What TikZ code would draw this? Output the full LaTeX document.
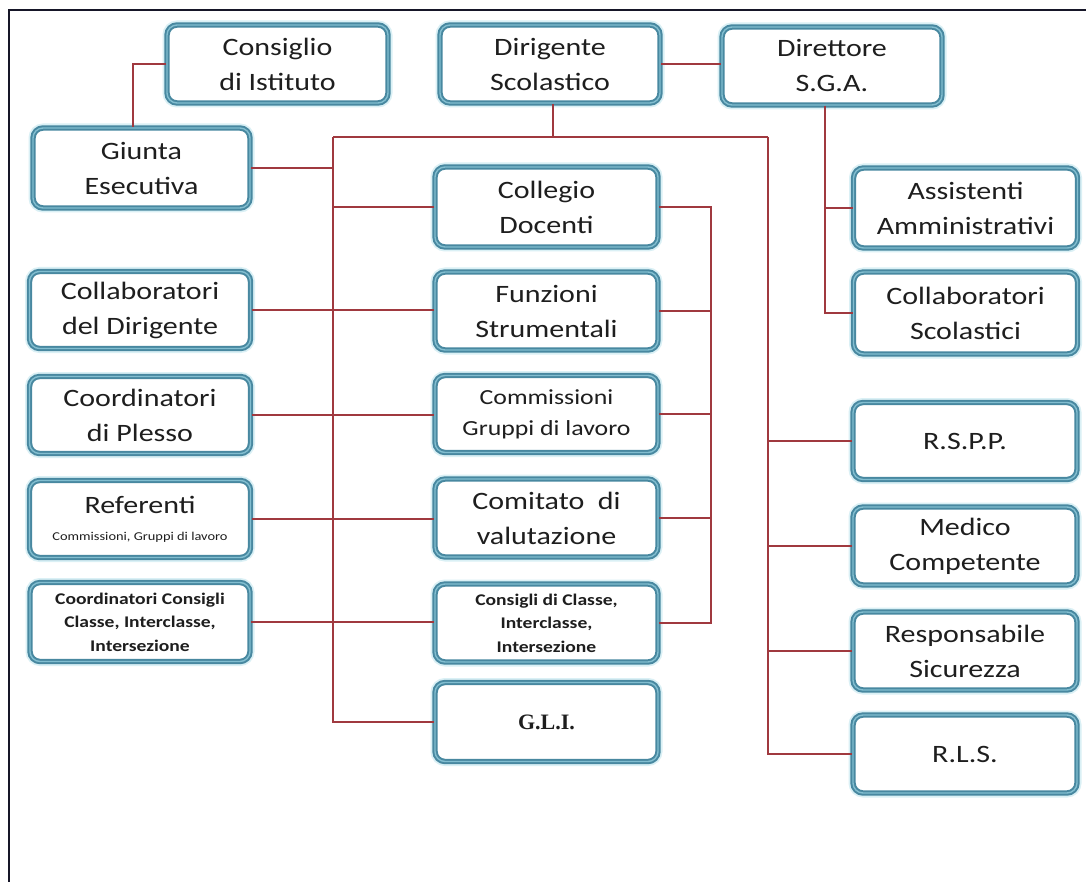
\documentclass[tikz,border=0pt]{standalone}
\usepackage{fontspec}
\setmainfont[FakeStretch=1.2]{Carlito}
\newfontfamily\glifont{Liberation Serif}
\usetikzlibrary{calc}
\definecolor{boxline}{RGB}{72,136,160}
\definecolor{boxinner}{RGB}{130,190,208}
\definecolor{glow}{RGB}{218,240,245}
\definecolor{conn}{RGB}{160,57,63}
\definecolor{txt}{RGB}{30,30,30}
\definecolor{frame}{RGB}{22,22,40}
\tikzset{
  orgbox/.style={rectangle, rounded corners=10pt, align=center, inner sep=0pt,
    text=txt, fill=white,
    draw=boxline, line width=2pt, double=boxinner, double distance=1.4pt,
    preaction={draw=glow, line width=9pt},
    font=\fontsize{25}{35}\selectfont},
  leftbox/.style={orgbox, minimum width=221pt, minimum height=77pt},
  midbox/.style={orgbox, minimum width=223pt, minimum height=78pt},
  rightbox/.style={orgbox, minimum width=224pt, minimum height=78pt},
  smallbold/.style={font=\fontsize{16.3}{23.5}\selectfont\bfseries},
  wire/.style={draw=conn, line width=1.2pt}
}
\begin{document}
\begin{tikzpicture}[x=1pt,y=-1pt]
\useasboundingbox (0,0) rectangle (1086,882);
\fill[white] (0,0) rectangle (1086,882);
\draw[frame, line width=2.6pt] (1086,10) -- (9,10) -- (9,882);

% top row
\node[orgbox, minimum width=221pt, minimum height=78pt] (consiglio) at (277.5,64) {Consiglio\\di Istituto};
\node[orgbox, minimum width=220pt, minimum height=78pt] (dirigente) at (550,64) {Dirigente\\Scolastico};
\node[orgbox, minimum width=220pt, minimum height=78pt] (direttore) at (832,66) {Direttore\\S.G.A.};

% left column
\node[leftbox, minimum width=217pt, minimum height=80pt] (giunta) at (141.5,168) {Giunta\\Esecutiva};
\node[leftbox] (collabD) at (140,310) {Collaboratori\\del Dirigente};
\node[leftbox] (coordP) at (140,415) {Coordinatori\\di Plesso};
\node[leftbox] (referenti) at (140,519) {Referenti\\[-8pt]{\fontsize{12}{14}\selectfont Commissioni, Gruppi di lavoro}};
\node[leftbox, minimum width=220pt, minimum height=79pt, smallbold] (coordC) at (140,622) {Coordinatori Consigli\\Classe, Interclasse,\\Intersezione};

% middle column
\node[midbox, minimum height=80pt] (collegio) at (546.5,207) {Collegio\\Docenti};
\node[midbox] (funzioni) at (546.5,311) {Funzioni\\Strumentali};
\node[midbox, minimum height=77pt, font=\fontsize{21.5}{31}\selectfont] (commissioni) at (546.5,414) {Commissioni\\Gruppi di lavoro};
\node[midbox] (comitato) at (546.5,518) {Comitato\ \ di\\valutazione};
\node[midbox, smallbold] (consigli) at (546.5,623) {Consigli di Classe,\\Interclasse,\\Intersezione};
\node[midbox, minimum height=79pt, font=\fontsize{22}{26}\selectfont\glifont\bfseries] (gli) at (546.5,722) {G.L.I.};

% right column
\node[rightbox, minimum height=80pt] (assistenti) at (965.5,208) {Assistenti\\Amministrativi};
\node[rightbox, minimum height=82pt] (collabS) at (965.5,313) {Collaboratori\\Scolastici};
\node[rightbox, minimum height=77pt] (rspp) at (965,441) {R.S.P.P.};
\node[rightbox] (medico) at (965,546) {Medico\\Competente};
\node[rightbox] (resp) at (965,651) {Responsabile\\Sicurezza};
\node[rightbox] (rls) at (965,754) {R.L.S.};

% bus coordinates
\coordinate (busL) at (333,137);
\coordinate (busR) at (768,137);
\coordinate (cr) at (711,207);

% connectors
\draw[wire] (consiglio.west) -| ([xshift=-8.5pt]giunta.north);
\draw[wire] (dirigente.east) -- (dirigente.east -| direttore.west);
\draw[wire] ([xshift=3pt]dirigente.south) -- ([xshift=3pt]dirigente.south |- busL);
\draw[wire] (busL) -- (busR);
\draw[wire] (busL) |- (gli.west);
\draw[wire] (busR) |- (rls.west);
\draw[wire] (giunta.east) -- (giunta.east -| busL);
\draw[wire] (collegio.west) -- (collegio.west -| busL);
\draw[wire] (collabD.east) -- (collabD.east -| funzioni.west);
\draw[wire] (coordP.east) -- (coordP.east -| commissioni.west);
\draw[wire] (referenti.east) -- (referenti.east -| comitato.west);
\draw[wire] (coordC.east) -- (coordC.east -| consigli.west);
\draw[wire] (collegio.east) -- (collegio.east -| cr) |- (consigli.east);
\draw[wire] (funzioni.east) -- (funzioni.east -| cr);
\draw[wire] (commissioni.east) -- (commissioni.east -| cr);
\draw[wire] (comitato.east) -- (comitato.east -| cr);
\draw[wire] (rspp.west) -- (rspp.west -| busR);
\draw[wire] (medico.west) -- (medico.west -| busR);
\draw[wire] (resp.west) -- (resp.west -| busR);
\draw[wire] ([xshift=-7pt]direttore.south) |- (assistenti.west);
\draw[wire] ([xshift=-7pt]direttore.south) |- (collabS.west);
\end{tikzpicture}
\end{document}
